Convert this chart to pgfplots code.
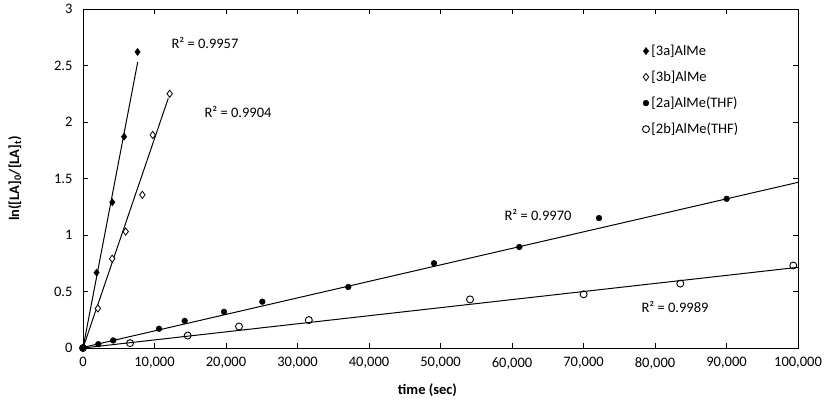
\documentclass[border=0pt]{standalone}
\usepackage{pgfplots}
\pgfplotsset{compat=1.18}
\usepackage{fontspec}
\setmainfont{Carlito}
\begin{document}
\begin{tikzpicture}[x=1pt,y=1pt]
\useasboundingbox (-83,-61) rectangle (746,348);
\begin{axis}[
  at={(0,0)}, anchor=south west,
  scale only axis, width=715pt, height=339pt,
  xmin=0, xmax=100000, ymin=0, ymax=3,
  xtick={0,10000,...,100000},
  ytick={0,0.5,...,3},
  tick align=inside,
  major tick length=5pt,
  tick style={black, line width=0.8pt},
  axis line style={black, line width=0.9pt},
  scaled x ticks=false,
  /pgf/number format/assume math mode=true,
  /pgf/number format/fixed,
  /pgf/number format/1000 sep={,},
  ticklabel style={font=\fontsize{14.5}{17}\selectfont},
  xticklabel style={yshift=-6pt},
  yticklabel style={xshift=-7pt},
  xlabel={\textbf{time (sec)}},
  ylabel={\textbf{ln([LA]\textsubscript{0}/[LA]\textsubscript{t})}},
  label style={font=\fontsize{14.5}{17}\selectfont},
  xlabel style={yshift=-8pt, xshift=-13pt},
  ylabel style={yshift=26pt},
  legend style={at={(0.778,0.906)}, anchor=north west, draw=none, fill=none,
    font=\fontsize{14.5}{17}\selectfont, row sep=10pt},
  legend cell align=left,
]
% data
\addplot[only marks, mark=diamond*, mark size=3.6pt, mark options={fill=black, draw=black}]
  coordinates {(0,0) (1900,0.667) (4100,1.29) (5750,1.87) (7630,2.62)};
\addlegendentry{[3a]AlMe}
\addplot[only marks, mark=diamond*, mark size=3.6pt, mark options={fill=white, draw=black, line width=0.8pt}]
  coordinates {(0,0) (2080,0.35) (4080,0.79) (5970,1.03) (8300,1.355) (9750,1.885) (12120,2.25)};
\addlegendentry{[3b]AlMe}
\addplot[only marks, mark=*, mark size=2.9pt, mark options={fill=black, draw=black}]
  coordinates {(0,0) (2140,0.034) (4220,0.067) (10630,0.17) (14220,0.24) (19720,0.32) (25080,0.41) (37100,0.54) (49090,0.75) (61020,0.894) (72170,1.15) (90020,1.32)};
\addlegendentry{[2a]AlMe(THF)}
\addplot[only marks, mark=o, mark size=3.5pt, mark options={fill=white, draw=black, line width=0.9pt}]
  coordinates {(0,0) (6580,0.043) (14640,0.11) (21820,0.19) (31580,0.247) (54130,0.43) (70020,0.475) (83540,0.57) (99340,0.73)};
\addlegendentry{[2b]AlMe(THF)}
% trendlines
\addplot[black, line width=1pt, forget plot] coordinates {(0,0) (7650,2.53)};
\addplot[black, line width=1pt, forget plot] coordinates {(0,0) (11930,2.21)};
\addplot[black, line width=1pt, forget plot] coordinates {(0,0.005) (100000,1.466)};
\addplot[black, line width=1pt, forget plot] coordinates {(0,0) (100000,0.714)};
% labels
\node[font=\fontsize{14.5}{17}\selectfont] at (axis cs:17060,2.70) {R² = 0.9957};
\node[font=\fontsize{14.5}{17}\selectfont] at (axis cs:21680,2.09) {R² = 0.9904};
\node[font=\fontsize{14.5}{17}\selectfont] at (axis cs:63640,1.18) {R² = 0.9970};
\node[font=\fontsize{14.5}{17}\selectfont] at (axis cs:82800,0.363) {R² = 0.9989};
\end{axis}
\end{tikzpicture}
\end{document}
